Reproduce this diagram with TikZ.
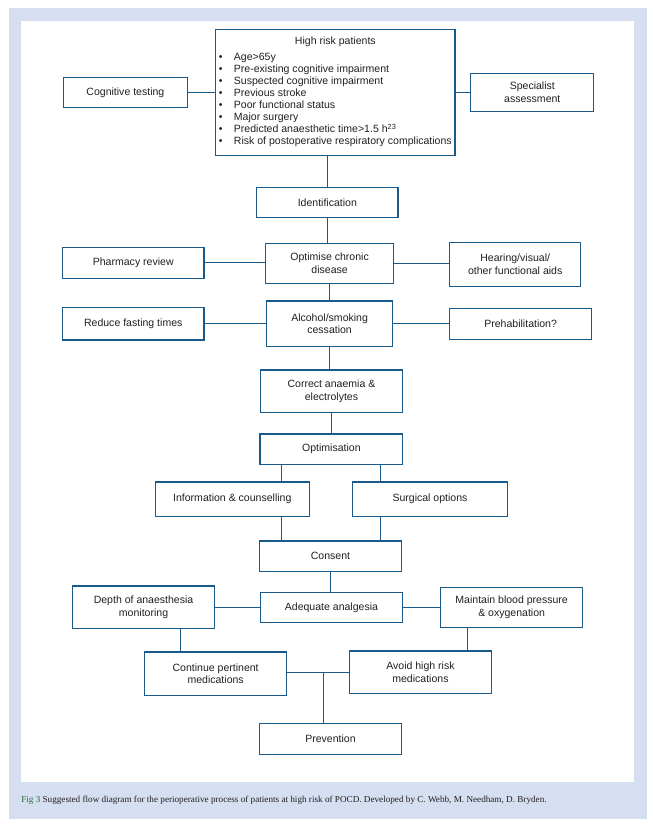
\documentclass[tikz,border=0pt]{standalone}
\usepackage{fontspec}
\setmainfont{Liberation Serif}
\newfontfamily\boxfont{Liberation Sans}
\usetikzlibrary{calc}
\definecolor{bgblue}{RGB}{214,222,242}
\definecolor{lineblue}{RGB}{25,90,140}
\definecolor{txt}{RGB}{35,31,32}
\definecolor{figgreen}{RGB}{40,110,50}
\begin{document}
\begin{tikzpicture}[x=0.75pt,y=-0.75pt,
  box/.style={draw=lineblue, line width=0.8pt, inner sep=0pt, outer sep=0pt, align=center,
    font=\boxfont\fontsize{7.9}{9.6}\selectfont, text=txt},
  bx/.style 2 args={box, minimum width=#1*0.75pt, minimum height=#2*0.75pt},
  link/.style={draw=lineblue, line width=0.8pt}]
\useasboundingbox (0,0) rectangle (653,828);
\fill[bgblue] (9,8) rectangle (647,819);
\fill[white] (21,21) rectangle (634,782);

\node[bx={124.2}{30}] (cog) at (125.4,92.3) {Cognitive testing};
\node[bx={239.3}{126}] (hr) at (335.35,92.3) {\fontsize{7.9}{9}\selectfont
  \begin{tabular}{@{}l@{\hspace{8.5pt}}l@{}}
  \multicolumn{2}{c}{High risk patients\hspace{15pt}}\\[3pt]
  \textbullet & Age>65y\\
  \textbullet & Pre-existing cognitive impairment\\
  \textbullet & Suspected cognitive impairment\\
  \textbullet & Previous stroke\\
  \textbullet & Poor functional status\\
  \textbullet & Major surgery\\
  \textbullet & Predicted anaesthetic time>1.5 h\textsuperscript{23}\\
  \textbullet & Risk of postoperative respiratory complications
  \end{tabular}};
\node[bx={123}{38}] (spec) at (532.3,92.3) {Specialist\\assessment};
\node[bx={141.3}{30}] (ident) at (327.35,202.3) {Identification};
\node[bx={141.5}{31}] (pharm) at (133.25,262.8) {Pharmacy review};
\node[bx={128.35}{40}] (ocd) at (329.6,263.3) {Optimise chronic\\disease};
\node[bx={131.2}{44}] (hear) at (515.2,264.3) {Hearing/visual/\\other functional aids};
\node[bx={125.8}{45.3}] (alc) at (329.6,323.65) {Alcohol/smoking\\cessation};
\node[bx={141.5}{32.7}] (fast) at (133.25,323.65) {Reduce fasting times};
\node[bx={142.1}{31}] (preh) at (520.65,323.8) {Prehabilitation?};
\node[bx={142.1}{42.3}] (anae) at (331.45,391.15) {Correct anaemia \&\\electrolytes};
\node[bx={142.7}{30.3}] (optim) at (331.35,449.15) {Optimisation};
\node[bx={154}{34.3}] (info) at (232.3,499.15) {Information \& counselling};
\node[bx={155.4}{34.3}] (surg) at (430,499.15) {Surgical options};
\node[bx={142.4}{30.7}] (cons) at (330.5,556.35) {Consent};
\node[bx={142.1}{42.3}] (depth) at (143.55,607.15) {Depth of anaesthesia\\monitoring};
\node[bx={142.1}{30}] (adeq) at (331.45,607.7) {Adequate analgesia};
\node[bx={141.7}{40}] (maint) at (511.65,607.3) {Maintain blood pressure\\\& oxygenation};
\node[bx={142.1}{43.3}] (cont) at (215.65,673.65) {Continue pertinent\\medications};
\node[bx={142.5}{42.3}] (avoid) at (420.45,672.15) {Avoid high risk\\medications};
\node[bx={142.5}{31}] (prev) at (330.45,738.8) {Prevention};

% connectors
\draw[link] (cog.east) -- (cog.east -| hr.west);
\draw[link] (hr.east |- spec.west) -- (spec.west);
\draw[link] (ident.north) -- (ident.north |- hr.south);
\draw[link] (ident.south) -- (ident.south |- ocd.north);
\draw[link] (pharm.east) -- (pharm.east -| ocd.west);
\draw[link] (ocd.east) -- (ocd.east -| hear.west);
\draw[link] (ocd.south) -- (ocd.south |- alc.north);
\draw[link] (fast.east) -- (fast.east -| alc.west);
\draw[link] (alc.east) -- (alc.east -| preh.west);
\draw[link] (alc.south) -- (alc.south |- anae.north);
\draw[link] (anae.south) -- (anae.south |- optim.north);
\coordinate (ol) at ($(optim.south west)+(21.7,0)$);
\coordinate (or) at ($(optim.south east)+(-22.4,0)$);
\draw[link] (ol) -- (ol |- info.north);
\draw[link] (or) -- (or |- surg.north);
\draw[link] (ol |- info.south) -- (ol |- cons.north);
\draw[link] (or |- surg.south) -- (or |- cons.north);
\draw[link] (cons.south) -- (cons.south |- adeq.north);
\draw[link] (depth.east |- adeq.west) -- (adeq.west);
\draw[link] (adeq.east) -- (adeq.east -| maint.west);
\coordinate (dl) at ($(depth.south west)+(107.9,0)$);
\coordinate (mr) at ($(maint.south west)+(26.7,0)$);
\draw[link] (dl) -- (dl |- cont.north);
\draw[link] (mr) -- (mr |- avoid.north);
\draw[link] (cont.east |- avoid.west) -- (avoid.west);
\coordinate (j) at ($(cont.east |- avoid.west)!0.593!(avoid.west)$);
\draw[link] (j) -- (j |- prev.north);

\node[anchor=base west, inner sep=0pt, text=txt, font=\fontsize{6.87}{8}\selectfont] (cap) at (21,802.7)
  {{\color{figgreen}Fig 3} Suggested flow diagram for the perioperative process of patients at high risk of POCD. Developed by C. Webb, M. Needham, D. Bryden.};
\end{tikzpicture}
\end{document}
